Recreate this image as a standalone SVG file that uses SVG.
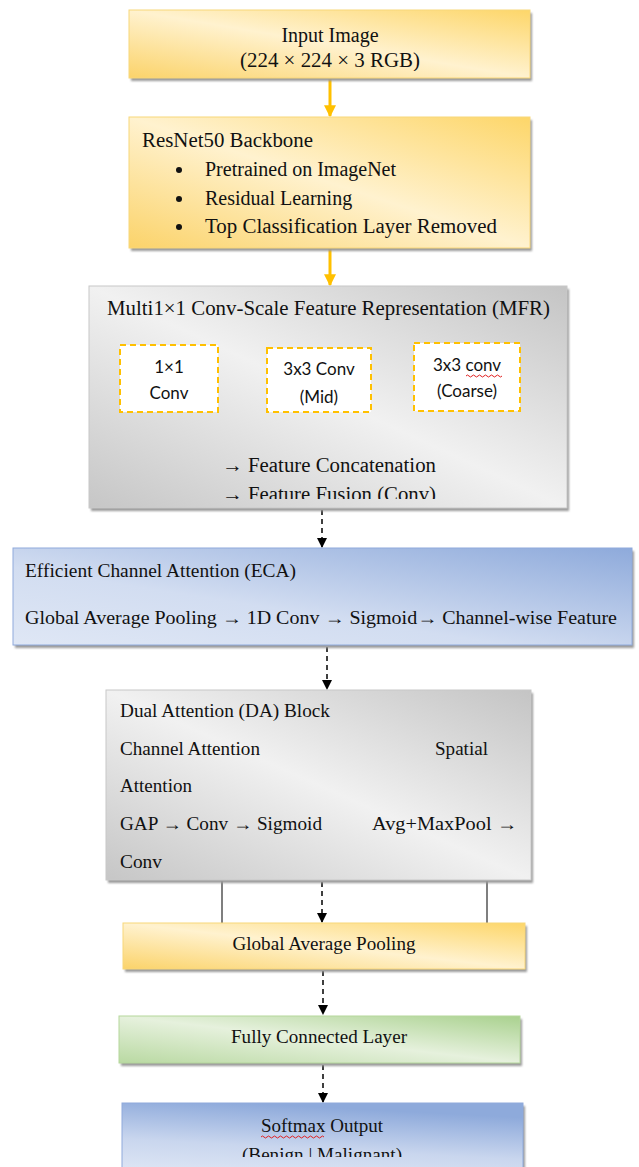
<svg xmlns="http://www.w3.org/2000/svg" width="639" height="1167" viewBox="0 0 639 1167">
<defs>
<linearGradient id="gYellow" x1="0" y1="1" x2="1" y2="0">
<stop offset="0" stop-color="#fbd36a"/><stop offset="0.5" stop-color="#fff2cf"/><stop offset="1" stop-color="#fdd669"/>
</linearGradient>
<linearGradient id="gGray" x1="0" y1="1" x2="1" y2="0">
<stop offset="0" stop-color="#c6c6c6"/><stop offset="0.5" stop-color="#f1f1f1"/><stop offset="1" stop-color="#c4c4c4"/>
</linearGradient>
<linearGradient id="gBlue" x1="0" y1="1" x2="1" y2="0">
<stop offset="0" stop-color="#dfe7f5"/><stop offset="0.4" stop-color="#d2ddf1"/><stop offset="1" stop-color="#8eaadb"/>
</linearGradient>
<linearGradient id="gBlue2" x1="0" y1="1" x2="0.3" y2="0">
<stop offset="0" stop-color="#dfe7f5"/><stop offset="0.45" stop-color="#c9d6ee"/><stop offset="1" stop-color="#8eaadb"/>
</linearGradient>
<linearGradient id="gGreen" x1="0" y1="1" x2="1" y2="0">
<stop offset="0" stop-color="#b9d9a2"/><stop offset="0.5" stop-color="#e6f1dd"/><stop offset="1" stop-color="#a9d18e"/>
</linearGradient>
<filter id="sh" x="-5%" y="-5%" width="110%" height="120%">
<feGaussianBlur stdDeviation="0.8"/>
</filter>
<marker id="ahO" viewBox="0 0 10 10" refX="9" refY="5" markerWidth="4" markerHeight="4" orient="auto" markerUnits="strokeWidth">
<path d="M0,0 L10,5 L0,10 Z" fill="#ffc000"/>
</marker>
<marker id="ahK" viewBox="0 0 10 10" refX="9" refY="5" markerWidth="7" markerHeight="7" orient="auto" markerUnits="strokeWidth">
<path d="M0,0 L10,5 L0,10 Z" fill="#000"/>
</marker>
<clipPath id="clipMFR"><rect x="89" y="286" width="478" height="213"/></clipPath>
<clipPath id="clipIn"><rect x="129" y="10" width="401" height="61"/></clipPath>
<clipPath id="clipSm"><rect x="122" y="1103" width="401" height="54"/></clipPath>
<clipPath id="clipMid"><rect x="267" y="348" width="104" height="62"/></clipPath>
</defs>
<style>
.shadow{fill:#9a9a9a;filter:url(#sh)}
.y{fill:url(#gYellow);stroke:#f8d77a;stroke-width:1}
.g{fill:url(#gGray);stroke:#c8c8c8;stroke-width:1}
.b{fill:url(#gBlue);stroke:#8faadc;stroke-width:1}
.b2{fill:url(#gBlue2);stroke:#8faadc;stroke-width:1}
.gr{fill:url(#gGreen);stroke:#b5d79c;stroke-width:1}
.t{font-family:"Liberation Serif","Times New Roman",serif;fill:#111}
.s{font-family:Lato,"Liberation Sans",sans-serif;fill:#111;font-size:17px}
.sub{fill:#fff;stroke:#ffc000;stroke-width:2;stroke-dasharray:6 4}
.ao{stroke:#ffc000;stroke-width:3;fill:none}
.ad{stroke:#000;stroke-width:1.5;stroke-dasharray:5 4;fill:none}
.ln{stroke:#555;stroke-width:1.5;fill:none}
.sq{stroke:#e02020;stroke-width:1;fill:none}
</style>

<g id="connectors">
<line class="ao" x1="330" y1="78" x2="330" y2="116" marker-end="url(#ahO)"/>
<line class="ao" x1="330" y1="248" x2="330" y2="285" marker-end="url(#ahO)"/>
<line class="ad" x1="322" y1="510" x2="322" y2="547" marker-end="url(#ahK)"/>
<line class="ad" x1="327" y1="647" x2="327" y2="689" marker-end="url(#ahK)"/>
<line class="ad" x1="322" y1="882" x2="322" y2="922" marker-end="url(#ahK)"/>
<line class="ad" x1="323" y1="971" x2="323" y2="1014" marker-end="url(#ahK)"/>
<line class="ad" x1="323" y1="1065" x2="323" y2="1102" marker-end="url(#ahK)"/>
<line class="ln" x1="222" y1="880" x2="222" y2="923"/>
<line class="ln" x1="487" y1="880" x2="487" y2="923"/>
</g>

<g id="input">
<rect class="shadow" x="131" y="13" width="401" height="68"/>
<rect class="y" x="129" y="10" width="401" height="68"/>
<g clip-path="url(#clipIn)">
<text class="t" x="330" y="42" font-size="20" text-anchor="middle">Input Image</text>
<text class="t" x="330" y="67" font-size="20" text-anchor="middle" textLength="180" lengthAdjust="spacingAndGlyphs">(224 × 224 × 3 RGB)</text>
</g>
</g>

<g id="resnet">
<rect class="shadow" x="131" y="120" width="401" height="131"/>
<rect class="y" x="129" y="117" width="401" height="131"/>
<text class="t" x="142" y="147" font-size="20" textLength="171" lengthAdjust="spacingAndGlyphs">ResNet50 Backbone</text>
<circle cx="179" cy="170" r="3" fill="#111"/>
<circle cx="179" cy="199" r="3" fill="#111"/>
<circle cx="179" cy="227" r="3" fill="#111"/>
<text class="t" x="205" y="176" font-size="20">Pretrained on ImageNet</text>
<text class="t" x="205" y="205" font-size="20">Residual Learning</text>
<text class="t" x="205" y="233" font-size="20" textLength="292" lengthAdjust="spacingAndGlyphs">Top Classification Layer Removed</text>
</g>

<g id="mfr">
<rect class="shadow" x="91" y="289" width="478" height="222"/>
<rect class="g" x="89" y="286" width="478" height="222"/>
<g clip-path="url(#clipMFR)">
<text class="t" x="107" y="315" font-size="20" textLength="443" lengthAdjust="spacingAndGlyphs">Multi1×1 Conv-Scale Feature Representation (MFR)</text>
<text class="t" x="222" y="472" font-size="20" textLength="214" lengthAdjust="spacingAndGlyphs">→ Feature Concatenation</text>
<text class="t" x="222" y="501" font-size="20" textLength="214" lengthAdjust="spacingAndGlyphs">→ Feature Fusion (Conv)</text>
</g>
<g id="mfr-sub1">
<rect class="sub" x="120" y="345" width="98" height="67"/>
<text class="s" x="169" y="373" text-anchor="middle">1×1</text>
<text class="s" x="169" y="399" text-anchor="middle">Conv</text>
</g>
<g id="mfr-sub2">
<rect class="sub" x="267" y="348" width="104" height="64"/>
<text class="s" x="319" y="375" text-anchor="middle">3x3 Conv</text>
<g clip-path="url(#clipMid)"><text class="s" x="319" y="403" text-anchor="middle">(Mid)</text></g>
</g>
<g id="mfr-sub3">
<rect class="sub" x="414" y="343" width="106" height="68"/>
<text class="s" x="467" y="371" text-anchor="middle">3x3 conv</text>
<path class="sq" d="M466,376 q1.5,-2 3,0 t3,0 t3,0 t3,0 t3,0 t3,0 t3,0 t3,0 t3,0 t3,0 t3,0 t3,0"/>
<text class="s" x="467" y="397" text-anchor="middle">(Coarse)</text>
</g>
</g>

<g id="eca">
<rect class="shadow" x="15" y="551" width="619" height="97"/>
<rect class="b" x="13" y="548" width="619" height="97"/>
<text class="t" x="25" y="577" font-size="18" textLength="271" lengthAdjust="spacingAndGlyphs">Efficient Channel Attention (ECA)</text>
<text class="t" x="25" y="624" font-size="18" textLength="592" lengthAdjust="spacingAndGlyphs">Global Average Pooling → 1D Conv → Sigmoid→ Channel-wise Feature</text>
</g>

<g id="da">
<rect class="shadow" x="108" y="693" width="425" height="190"/>
<rect class="g" x="106" y="690" width="425" height="190"/>
<text class="t" x="120" y="717" font-size="18" textLength="210" lengthAdjust="spacingAndGlyphs">Dual Attention (DA) Block</text>
<text class="t" x="120" y="755" font-size="18" textLength="140" lengthAdjust="spacingAndGlyphs">Channel Attention</text>
<text class="t" x="435" y="755" font-size="18" textLength="53" lengthAdjust="spacingAndGlyphs">Spatial</text>
<text class="t" x="120" y="792" font-size="18" textLength="72" lengthAdjust="spacingAndGlyphs">Attention</text>
<text class="t" x="120" y="830" font-size="18" textLength="202" lengthAdjust="spacingAndGlyphs">GAP → Conv → Sigmoid</text>
<text class="t" x="372" y="830" font-size="18" textLength="145" lengthAdjust="spacingAndGlyphs">Avg+MaxPool  →</text>
<text class="t" x="120" y="868" font-size="18" textLength="42" lengthAdjust="spacingAndGlyphs">Conv</text>
</g>

<g id="gap">
<rect class="shadow" x="125" y="926" width="402" height="46"/>
<rect class="y" x="123" y="923" width="402" height="46"/>
<text class="t" x="324" y="950" font-size="18" text-anchor="middle" textLength="183" lengthAdjust="spacingAndGlyphs">Global Average Pooling</text>
</g>

<g id="fc">
<rect class="shadow" x="121" y="1019" width="401" height="47"/>
<rect class="gr" x="119" y="1016" width="401" height="47"/>
<text class="t" x="319" y="1043" font-size="18" text-anchor="middle" textLength="176" lengthAdjust="spacingAndGlyphs">Fully Connected Layer</text>
</g>

<g id="softmax">
<rect class="shadow" x="124" y="1106" width="401" height="70"/>
<rect class="b2" x="122" y="1103" width="401" height="70"/>
<g clip-path="url(#clipSm)">
<text class="t" x="322" y="1132" font-size="18" text-anchor="middle" textLength="122" lengthAdjust="spacingAndGlyphs">Softmax Output</text>
<text class="t" x="322" y="1161" font-size="18" text-anchor="middle" textLength="160" lengthAdjust="spacingAndGlyphs">(Benign | Malignant)</text>
</g>
<path class="sq" d="M261,1137 q1.5,-2 3,0 t3,0 t3,0 t3,0 t3,0 t3,0 t3,0 t3,0 t3,0 t3,0 t3,0 t3,0 t3,0 t3,0 t3,0 t3,0 t3,0 t3,0 t3,0 t3,0 t3,0"/>
</g>
</svg>
